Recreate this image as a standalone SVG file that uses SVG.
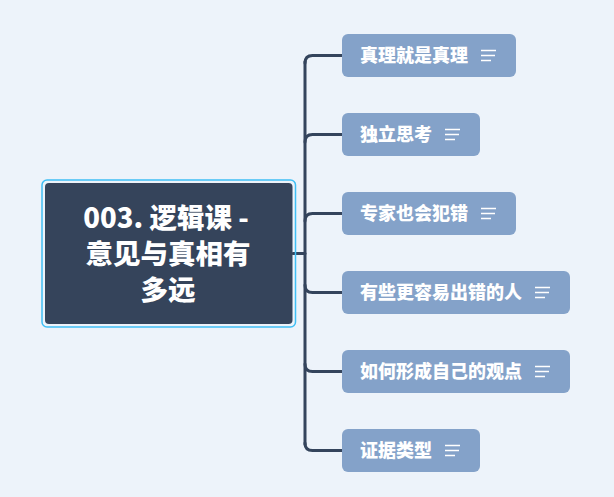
<svg xmlns="http://www.w3.org/2000/svg" width="614" height="497" viewBox="0 0 614 497">
<style>
.bg{fill:#edf3fa}
.conn{fill:none;stroke:#34445c;stroke-width:3;stroke-linecap:round}
.child rect{fill:#84a2c9}
.child text{fill:#ffffff;font-family:"Noto Sans CJK SC","Noto Sans",sans-serif;font-weight:900;font-size:18px}
.icon{stroke:#ffffff;stroke-width:1.5;fill:none}
.root text{fill:#ffffff;font-family:"Noto Sans CJK SC","Noto Sans",sans-serif;font-weight:900;font-size:27.5px;text-anchor:middle}
</style>
<rect class="bg" x="0" y="0" width="614" height="497"/>
<g id="connectors">
<path class="conn" d="M293,253.5 L305,253.5"/>
<path class="conn" d="M305,61.5 L305,444.5"/>
<path class="conn" d="M305,63 Q305,55.5 312.5,55.5 L343,55.5"/>
<path class="conn" d="M305,142 Q305,134.5 312.5,134.5 L343,134.5"/>
<path class="conn" d="M305,221 Q305,213.5 312.5,213.5 L343,213.5"/>
<path class="conn" d="M305,285 Q305,292.5 312.5,292.5 L343,292.5"/>
<path class="conn" d="M305,364 Q305,371.5 312.5,371.5 L343,371.5"/>
<path class="conn" d="M305,443 Q305,450.5 312.5,450.5 L343,450.5"/>
</g>
<g id="root" class="root">
<rect x="42" y="180" width="253.5" height="147" rx="5" fill="none" stroke="#3fbff5" stroke-width="1.5"/>
<rect x="45" y="183" width="247.5" height="141" rx="4" fill="#35445b"/>
<text x="166" y="228">003. 逻辑课 -</text>
<text x="168" y="264">意见与真相有</text>
<text x="168" y="300">多远</text>
</g>
<g id="n1" class="child">
<rect x="342" y="34" width="174" height="43" rx="6"/>
<text x="360" y="62">真理就是真理</text>
<path class="icon" d="M481,50.5H496M481,55.5H495M481,60.5H491"/>
</g>
<g id="n2" class="child">
<rect x="342" y="113" width="138" height="43" rx="6"/>
<text x="360" y="141">独立思考</text>
<path class="icon" d="M445,129.5H460M445,134.5H459M445,139.5H455"/>
</g>
<g id="n3" class="child">
<rect x="342" y="192" width="174" height="43" rx="6"/>
<text x="360" y="220">专家也会犯错</text>
<path class="icon" d="M481,208.5H496M481,213.5H495M481,218.5H491"/>
</g>
<g id="n4" class="child">
<rect x="342" y="271" width="228" height="43" rx="6"/>
<text x="360" y="299">有些更容易出错的人</text>
<path class="icon" d="M535,287.5H550M535,292.5H549M535,297.5H545"/>
</g>
<g id="n5" class="child">
<rect x="342" y="350" width="228" height="43" rx="6"/>
<text x="360" y="378">如何形成自己的观点</text>
<path class="icon" d="M535,366.5H550M535,371.5H549M535,376.5H545"/>
</g>
<g id="n6" class="child">
<rect x="342" y="429" width="138" height="43" rx="6"/>
<text x="360" y="457">证据类型</text>
<path class="icon" d="M445,445.5H460M445,450.5H459M445,455.5H455"/>
</g>
</svg>
